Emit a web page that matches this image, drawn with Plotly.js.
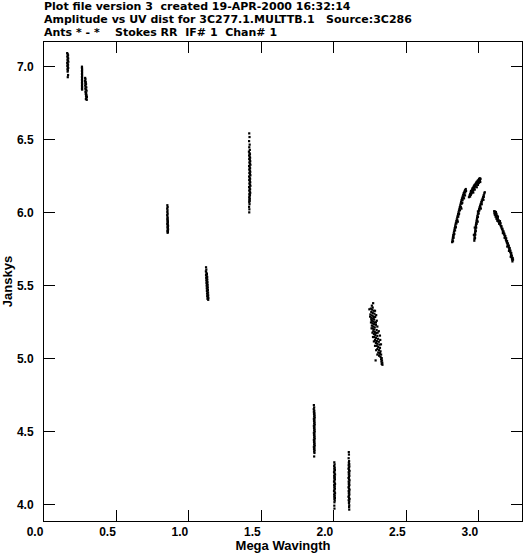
<!DOCTYPE html>
<html>
<head>
<meta charset="utf-8">
<script src="https://cdn.plot.ly/plotly-3.0.1.min.js"></script>
<style>html,body{margin:0;padding:0;background:#fff;}#plot{width:525px;height:553px;}</style>
</head>
<body>
<div id="plot"></div>
<script>
// UV distance (Mega wavelengths) and amplitude (Janskys) per visibility group
const uv_c1 = [0.160,0.163,0.166,0.161,0.164,0.167,0.162,0.165,0.168,0.160,0.163,0.166,0.161,0.164,0.167,0.162,0.165,0.163,0.166,0.164];
const amp_c1 = [7.095,7.088,7.080,7.072,7.065,7.058,7.050,7.043,7.036,7.029,7.022,7.015,7.008,7.000,6.993,6.985,6.977,6.968,6.945,6.930];

const uv_c2 = [0.262,0.262,0.263,0.262,0.263,0.262,0.263,0.262,0.263,0.262,0.263,0.262,0.263,0.262,0.263,0.262,0.263,
  0.284,0.286,0.283,0.288,0.285,0.290,0.284,0.287,0.292,0.285,0.289,0.294,0.286,0.291,0.288,0.293,0.290,0.296,0.292,0.289,0.295];
const amp_c2 = [7.002,6.992,6.982,6.972,6.962,6.952,6.942,6.932,6.922,6.912,6.902,6.892,6.882,6.872,6.862,6.852,6.845,
  6.925,6.915,6.905,6.897,6.890,6.882,6.874,6.866,6.860,6.852,6.845,6.838,6.830,6.823,6.815,6.808,6.800,6.795,6.787,6.780,6.775];

const uv_c3 = [0.851,0.853,0.850,0.852,0.851,0.853,0.850,0.852,0.853,0.851,0.854,0.852,0.855,0.853,0.851,0.854,0.856,0.852,0.855,0.853,0.856,0.854,0.852,0.855,0.853];
const amp_c3 = [6.053,6.040,6.030,6.018,6.006,5.995,5.985,5.975,5.965,5.957,5.950,5.943,5.937,5.930,5.924,5.918,5.912,5.906,5.900,5.894,5.888,5.882,5.876,5.870,5.864];

const uv_c4 = [1.118,1.120,1.117,1.121,1.124,1.118,1.122,1.126,1.119,1.123,1.127,1.120,1.124,1.128,1.121,1.125,1.129,1.122,1.126,1.130,1.123,1.127,1.131,1.124,1.128,1.132,1.125,1.129,1.133,1.126,1.130,1.134,1.128,1.133];
const amp_c4 = [5.628,5.612,5.600,5.590,5.582,5.575,5.568,5.562,5.556,5.550,5.544,5.538,5.532,5.526,5.520,5.514,5.508,5.502,5.496,5.490,5.484,5.478,5.472,5.466,5.460,5.454,5.448,5.442,5.436,5.430,5.424,5.418,5.412,5.405];

const uv_c5 = [1.416,1.418,1.415,1.419,1.416,1.420,1.414,1.418,1.421,1.415,1.419,1.422,1.416,1.420,1.423,1.417,1.421,1.424,1.415,1.419,1.422,1.416,1.420,1.423,1.417,1.421,1.424,1.415,1.419,1.422,1.416,1.420,1.423,1.417,1.421,1.424,1.415,1.419,1.422,1.416,1.420,1.423,1.417,1.421,1.418,1.416,1.420,1.417,1.419,1.416,1.418,1.415,1.417,1.416];
const amp_c5 = [6.545,6.520,6.492,6.468,6.450,6.432,6.420,6.410,6.402,6.394,6.386,6.378,6.370,6.362,6.354,6.346,6.338,6.330,6.322,6.314,6.306,6.298,6.290,6.282,6.274,6.266,6.258,6.250,6.242,6.234,6.226,6.218,6.210,6.202,6.194,6.186,6.178,6.170,6.162,6.154,6.146,6.138,6.130,6.122,6.114,6.106,6.098,6.090,6.082,6.074,6.060,6.042,6.025,6.004];

const uv_c6 = [1.862,1.864,1.861,1.865,1.862,1.866,1.863,1.867,1.864,1.868,1.862,1.866,1.863,1.867,1.864,1.868,1.862,1.866,1.863,1.867,1.864,1.868,1.862,1.866,1.863,1.867,1.864,1.868,1.862,1.866,1.863,1.867,1.864,1.868,1.862,1.866,1.863,1.867,1.864,1.866,1.864];
const amp_c6 = [4.684,4.668,4.656,4.646,4.638,4.630,4.622,4.614,4.606,4.598,4.590,4.582,4.574,4.566,4.558,4.550,4.542,4.534,4.526,4.518,4.510,4.502,4.494,4.486,4.478,4.470,4.462,4.454,4.446,4.438,4.430,4.422,4.414,4.406,4.398,4.390,4.382,4.374,4.366,4.356,4.332];

const uv_c7 = [2.003,2.005,2.002,2.006,2.003,2.007,2.004,2.001,2.005,2.008,2.002,2.006,2.003,2.007,2.004,2.001,2.005,2.008,2.002,2.006,2.003,2.007,2.004,2.001,2.005,2.008,2.002,2.006,2.003,2.007,2.004,2.006,2.004,2.003,2.004];
const amp_c7 = [4.292,4.278,4.266,4.256,4.248,4.240,4.232,4.224,4.216,4.208,4.200,4.192,4.184,4.176,4.168,4.160,4.152,4.144,4.136,4.128,4.120,4.112,4.104,4.096,4.088,4.080,4.072,4.064,4.056,4.048,4.040,4.030,4.018,3.995,3.975];

const uv_c8 = [2.103,2.104,2.102,2.105,2.103,2.106,2.102,2.107,2.104,2.101,2.105,2.108,2.102,2.106,2.103,2.107,2.104,2.101,2.105,2.108,2.102,2.106,2.103,2.107,2.104,2.101,2.105,2.108,2.102,2.106,2.103,2.107,2.104,2.101,2.105,2.108,2.102,2.106,2.104,2.106,2.105,2.106];
const amp_c8 = [4.362,4.345,4.320,4.300,4.290,4.280,4.272,4.264,4.256,4.248,4.240,4.232,4.224,4.216,4.208,4.200,4.192,4.184,4.176,4.168,4.160,4.152,4.144,4.136,4.128,4.120,4.112,4.104,4.096,4.088,4.080,4.072,4.064,4.056,4.048,4.040,4.032,4.024,4.014,3.998,3.985,3.968];

const uv_c9 = [2.271,2.262,2.268,2.255,2.264,2.274,2.258,2.268,2.280,2.252,2.262,2.272,2.285,2.258,2.268,2.278,2.262,2.272,2.282,2.266,2.276,2.290,2.262,2.272,2.282,2.268,2.278,2.295,2.272,2.282,2.292,2.276,2.286,2.300,2.280,2.290,2.305,2.284,2.296,2.310,2.290,2.300,2.314,2.296,2.306,2.318,2.300,2.312,2.322,2.306,2.316,2.326,2.312,2.322,2.330,2.288,2.326,2.332,2.328,2.334,2.330,2.335,
  2.245,2.284,2.250,2.292,2.256,2.296,2.260,2.300,2.266,2.310,2.270,2.318,2.276,2.320,2.284,2.325,2.292,2.300,2.318,2.258,2.276,2.290,2.302,2.294];
const amp_c9 = [5.382,5.365,5.352,5.345,5.338,5.330,5.322,5.315,5.310,5.305,5.298,5.292,5.288,5.282,5.276,5.270,5.262,5.256,5.250,5.244,5.238,5.234,5.228,5.222,5.216,5.208,5.202,5.198,5.190,5.184,5.178,5.170,5.164,5.158,5.150,5.144,5.138,5.130,5.124,5.118,5.110,5.104,5.098,5.090,5.082,5.076,5.068,5.060,5.052,5.044,5.036,5.030,5.022,5.014,5.006,4.990,4.998,4.990,4.982,4.974,4.966,4.960,
  5.340,5.330,5.290,5.300,5.250,5.262,5.210,5.222,5.180,5.190,5.150,5.160,5.120,5.130,5.090,5.100,5.060,5.030,5.040,5.270,5.284,5.250,5.180,5.120];

const uv_a1 = [2.816,2.818,2.820,2.822,2.824,2.827,2.829,2.832,2.834,2.837,2.839,2.842,2.845,2.848,2.851,2.854,2.857,2.860,2.863,2.866,2.869,2.872,2.875,2.878,2.881,2.884,2.888,2.892,2.896,2.900,2.905,2.910,
  2.822,2.826,2.831,2.836,2.841,2.846,2.852,2.858,2.864,2.870,2.876,2.882,2.888,2.894,2.900,2.906,2.912,
  2.826,2.840,2.855,2.862,2.880,2.886,2.898,2.905];
const amp_a1 = [5.800,5.812,5.824,5.836,5.848,5.860,5.872,5.884,5.896,5.908,5.920,5.932,5.944,5.956,5.968,5.980,5.992,6.004,6.016,6.028,6.040,6.052,6.064,6.076,6.088,6.100,6.112,6.124,6.136,6.146,6.156,6.164,
  5.806,5.830,5.856,5.880,5.904,5.928,5.950,5.974,5.996,6.018,6.040,6.064,6.088,6.108,6.126,6.140,6.150,
  5.845,5.900,5.940,5.990,6.030,6.070,6.100,6.120];

const uv_b1 = [2.932,2.940,2.936,2.945,2.940,2.950,2.944,2.954,2.948,2.958,2.952,2.962,2.956,2.966,2.960,2.970,2.964,2.975,2.968,2.979,2.973,2.984,2.978,2.988,2.982,2.993,2.987,2.998,2.992,3.003,2.997,3.008,3.002,3.012,3.006,2.958,2.972,2.986,2.994,3.000,3.010,2.946,2.962];
const amp_b1 = [6.108,6.112,6.120,6.124,6.130,6.134,6.140,6.142,6.148,6.150,6.156,6.158,6.164,6.166,6.172,6.174,6.180,6.180,6.188,6.188,6.194,6.195,6.200,6.202,6.208,6.208,6.214,6.214,6.220,6.220,6.226,6.226,6.232,6.234,6.238,6.170,6.160,6.176,6.192,6.205,6.212,6.150,6.140];

const uv_a2 = [2.969,2.970,2.971,2.972,2.973,2.975,2.976,2.977,2.979,2.980,2.982,2.984,2.986,2.988,2.990,2.993,2.996,2.999,3.002,3.005,3.009,3.013,3.017,3.021,3.026,3.030,3.034,3.038,3.041,
  2.974,2.976,2.979,2.982,2.985,2.989,2.994,2.999,3.004,3.010,3.016,3.022,3.028,3.034,
  2.966,2.972,2.992,2.994,3.014,3.020,3.032];
const amp_a2 = [5.810,5.822,5.834,5.846,5.858,5.870,5.882,5.894,5.906,5.918,5.930,5.942,5.954,5.966,5.978,5.990,6.002,6.014,6.026,6.038,6.050,6.062,6.074,6.086,6.098,6.110,6.122,6.134,6.142,
  5.828,5.852,5.876,5.900,5.924,5.948,5.972,5.996,6.018,6.040,6.060,6.078,6.094,6.110,
  5.850,5.900,5.940,6.010,6.030,6.060,6.090];

const uv_a3 = [3.106,3.112,3.118,3.108,3.115,3.122,3.112,3.119,3.126,3.116,3.124,3.131,3.122,3.130,3.137,3.128,3.136,3.143,3.140,3.148,3.152,3.156,3.160,3.164,3.168,3.172,3.176,3.180,3.184,3.187,3.190,3.194,3.198,3.202,3.206,3.210,3.213,3.216,3.220,3.223,3.226,3.228,3.230,3.232,
  3.156,3.163,3.170,3.176,3.183,3.189,3.195,3.201,3.207,3.213,3.218,3.224,3.228,3.234,
  3.110,3.132,3.146,3.150,3.166,3.178,3.196,3.208,3.220,3.236];
const amp_a3 = [6.012,6.010,6.006,6.000,5.998,5.994,5.988,5.984,5.980,5.974,5.970,5.966,5.960,5.956,5.950,5.946,5.940,5.934,5.926,5.920,5.910,5.900,5.890,5.880,5.870,5.860,5.850,5.840,5.828,5.816,5.806,5.796,5.786,5.776,5.764,5.754,5.744,5.734,5.724,5.712,5.700,5.690,5.680,5.668,
  5.910,5.892,5.874,5.858,5.842,5.826,5.808,5.792,5.776,5.760,5.742,5.726,5.708,5.692,
  5.990,5.975,5.944,5.930,5.862,5.830,5.770,5.740,5.700,5.680];

const xTicks = [0.0,0.5,1.0,1.5,2.0,2.5,3.0];
const yTicks = [4.0,4.5,5.0,5.5,6.0,6.5,7.0];
const headerLines = [
  "Plot file version 3\u00a0\u00a0created 19-APR-2000 16:32:14",
  "Amplitude vs UV dist for 3C277.1.MULTTB.1\u00a0\u00a0\u00a0Source:3C286",
  "Ants * - *\u00a0\u00a0\u00a0\u00a0Stokes RR\u00a0\u00a0IF# 1\u00a0\u00a0Chan# 1"
];

const groups = [[uv_c1,amp_c1],[uv_c2,amp_c2],[uv_c3,amp_c3],[uv_c4,amp_c4],[uv_c5,amp_c5],[uv_c6,amp_c6],[uv_c7,amp_c7],[uv_c8,amp_c8],[uv_c9,amp_c9],[uv_a1,amp_a1],[uv_b1,amp_b1],[uv_a2,amp_a2],[uv_a3,amp_a3]];
const traces = groups.map(g => ({
  x: g[0], y: g[1], type: 'scatter', mode: 'markers',
  marker: {color: '#000', size: 2.2, symbol: 'square', line: {width: 0}},
  hoverinfo: 'skip', showlegend: false
}));

const FONT = "'Liberation Sans', Arial, Helvetica, sans-serif";
const HFONT = "'DejaVu Sans', 'Liberation Sans', sans-serif";
const ys = [1.0741, 1.0470, 1.0198];
const annotations = headerLines.map((t, i) => ({
  text: t, xref: 'paper', yref: 'paper', x: -0.003, y: ys[i],
  xanchor: 'left', yanchor: 'middle', showarrow: false, borderpad: 0,
  font: {family: HFONT, size: 11, color: '#000', weight: 'bold'}
}));

const axisCommon = {
  showgrid: false, zeroline: false, showline: true, linecolor: '#000', linewidth: 1,
  mirror: 'ticks', ticks: 'inside', ticklen: 11, tickwidth: 1, tickcolor: '#000',
  tickfont: {family: FONT, size: 12, color: '#000', weight: 'bold'}, tickformat: '.1f'
};

const layout = {
  width: 525, height: 553,
  margin: {l: 44, r: 3, t: 42, b: 32, pad: 0},
  paper_bgcolor: '#fff', plot_bgcolor: '#fff',
  showlegend: false,
  xaxis: Object.assign({}, axisCommon, {
    range: [0, 3.298], tickmode: 'array', tickvals: xTicks,
    ticklabelshift: -9,
    title: {text: 'Mega Wavingth', standoff: 2, font: {family: FONT, size: 13, color: '#000', weight: 'bold'}},
    automargin: false
  }),
  yaxis: Object.assign({}, axisCommon, {
    range: [3.89, 7.171], tickmode: 'array', tickvals: yTicks,
    ticklabelstandoff: 7,
    title: {text: 'Janskys', standoff: 4, font: {family: FONT, size: 13, color: '#000', weight: 'bold'}},
    automargin: false
  }),
  annotations: annotations
};

Plotly.newPlot('plot', traces, layout, {staticPlot: true, displayModeBar: false});
</script>
</body>
</html>
